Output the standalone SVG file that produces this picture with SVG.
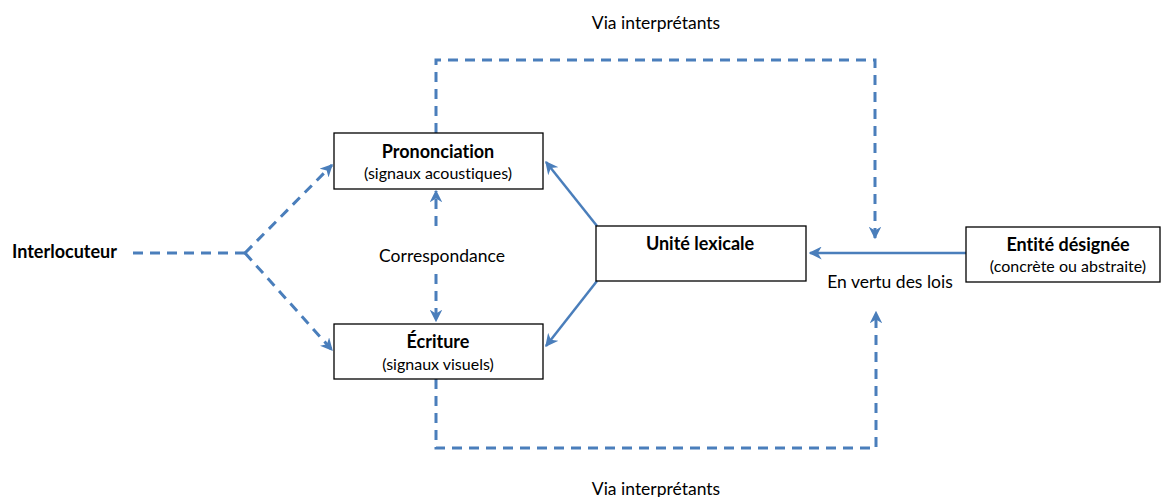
<svg xmlns="http://www.w3.org/2000/svg" width="1163" height="497" viewBox="0 0 1163 497">
<defs>
<style>
.box{fill:#fff;stroke:#000;stroke-width:1.3}
.t{font-family:Lato,"Liberation Sans",sans-serif;fill:#000;font-variant-ligatures:none;font-feature-settings:"liga" 0}
.b{font-weight:bold;font-size:18px}
.s{font-size:16px}
.l{font-size:17.5px}
.dash{fill:none;stroke:#4a7ebb;stroke-width:3;stroke-dasharray:10 7}
.solid{fill:none;stroke:#4a7ebb;stroke-width:2.5}
</style>
<marker id="ah" viewBox="0 0 10 10" refX="9" refY="5" markerWidth="4.2" markerHeight="4.2" orient="auto" markerUnits="strokeWidth">
<path d="M0,0 L10,5 L0,10 L3,5 Z" fill="#4a7ebb"/>
</marker>
<marker id="ahs" viewBox="0 0 10 10" refX="9" refY="5" markerWidth="5.2" markerHeight="5.2" orient="auto" markerUnits="strokeWidth">
<path d="M0,0 L10,5 L0,10 L3,5 Z" fill="#4a7ebb"/>
</marker>
</defs>
<rect width="1163" height="497" fill="#fff"/>
<g id="connectors">
<path class="dash" d="M133,253 L245,253"/>
<path class="dash" d="M245,253 L332,165" marker-end="url(#ah)"/>
<path class="dash" d="M245,253 L332,350" marker-end="url(#ah)"/>
<path class="dash" d="M436,226 L436,191" marker-end="url(#ah)"/>
<path class="dash" d="M436,274 L436,321" marker-end="url(#ah)"/>
<path class="dash" d="M436,133 L436,60 L875,60 L875,238" marker-end="url(#ah)"/>
<path class="dash" d="M436,379 L436,448 L876,448 L876,312" marker-end="url(#ah)"/>
<path class="solid" d="M597,226 L546,162" marker-end="url(#ahs)"/>
<path class="solid" d="M597,281 L546,346" marker-end="url(#ahs)"/>
<path class="solid" d="M966,253 L810,253" marker-end="url(#ahs)"/>
</g>
<g id="prononciation">
<rect class="box" x="334" y="133" width="209" height="56"/>
<text class="t b" x="438" y="158" text-anchor="middle">Prononciation</text>
<text class="t s" x="438" y="179" text-anchor="middle">(signaux acoustiques)</text>
</g>
<g id="ecriture">
<rect class="box" x="334" y="324" width="209" height="55"/>
<text class="t b" x="438" y="348" text-anchor="middle">Écriture</text>
<text class="t s" x="438" y="370" text-anchor="middle">(signaux visuels)</text>
</g>
<g id="unite">
<rect class="box" x="596" y="226" width="210" height="55"/>
<text class="t b" x="700" y="250" text-anchor="middle">Unité lexicale</text>
</g>
<g id="entite">
<rect class="box" x="966" y="227" width="194" height="55"/>
<text class="t b" x="1068" y="251" text-anchor="middle">Entité désignée</text>
<text class="t s" x="1068" y="272" text-anchor="middle">(concrète ou abstraite)</text>
</g>
<g id="interlocuteur">
<text class="t b" x="12" y="258">Interlocuteur</text>
</g>
<g id="labels">
<text class="t l" x="442" y="262" text-anchor="middle">Correspondance</text>
<text class="t l" x="890" y="288" text-anchor="middle">En vertu des lois</text>
<text class="t l" x="656" y="29" text-anchor="middle">Via interprétants</text>
<text class="t l" x="656" y="495" text-anchor="middle">Via interprétants</text>
</g>
</svg>
